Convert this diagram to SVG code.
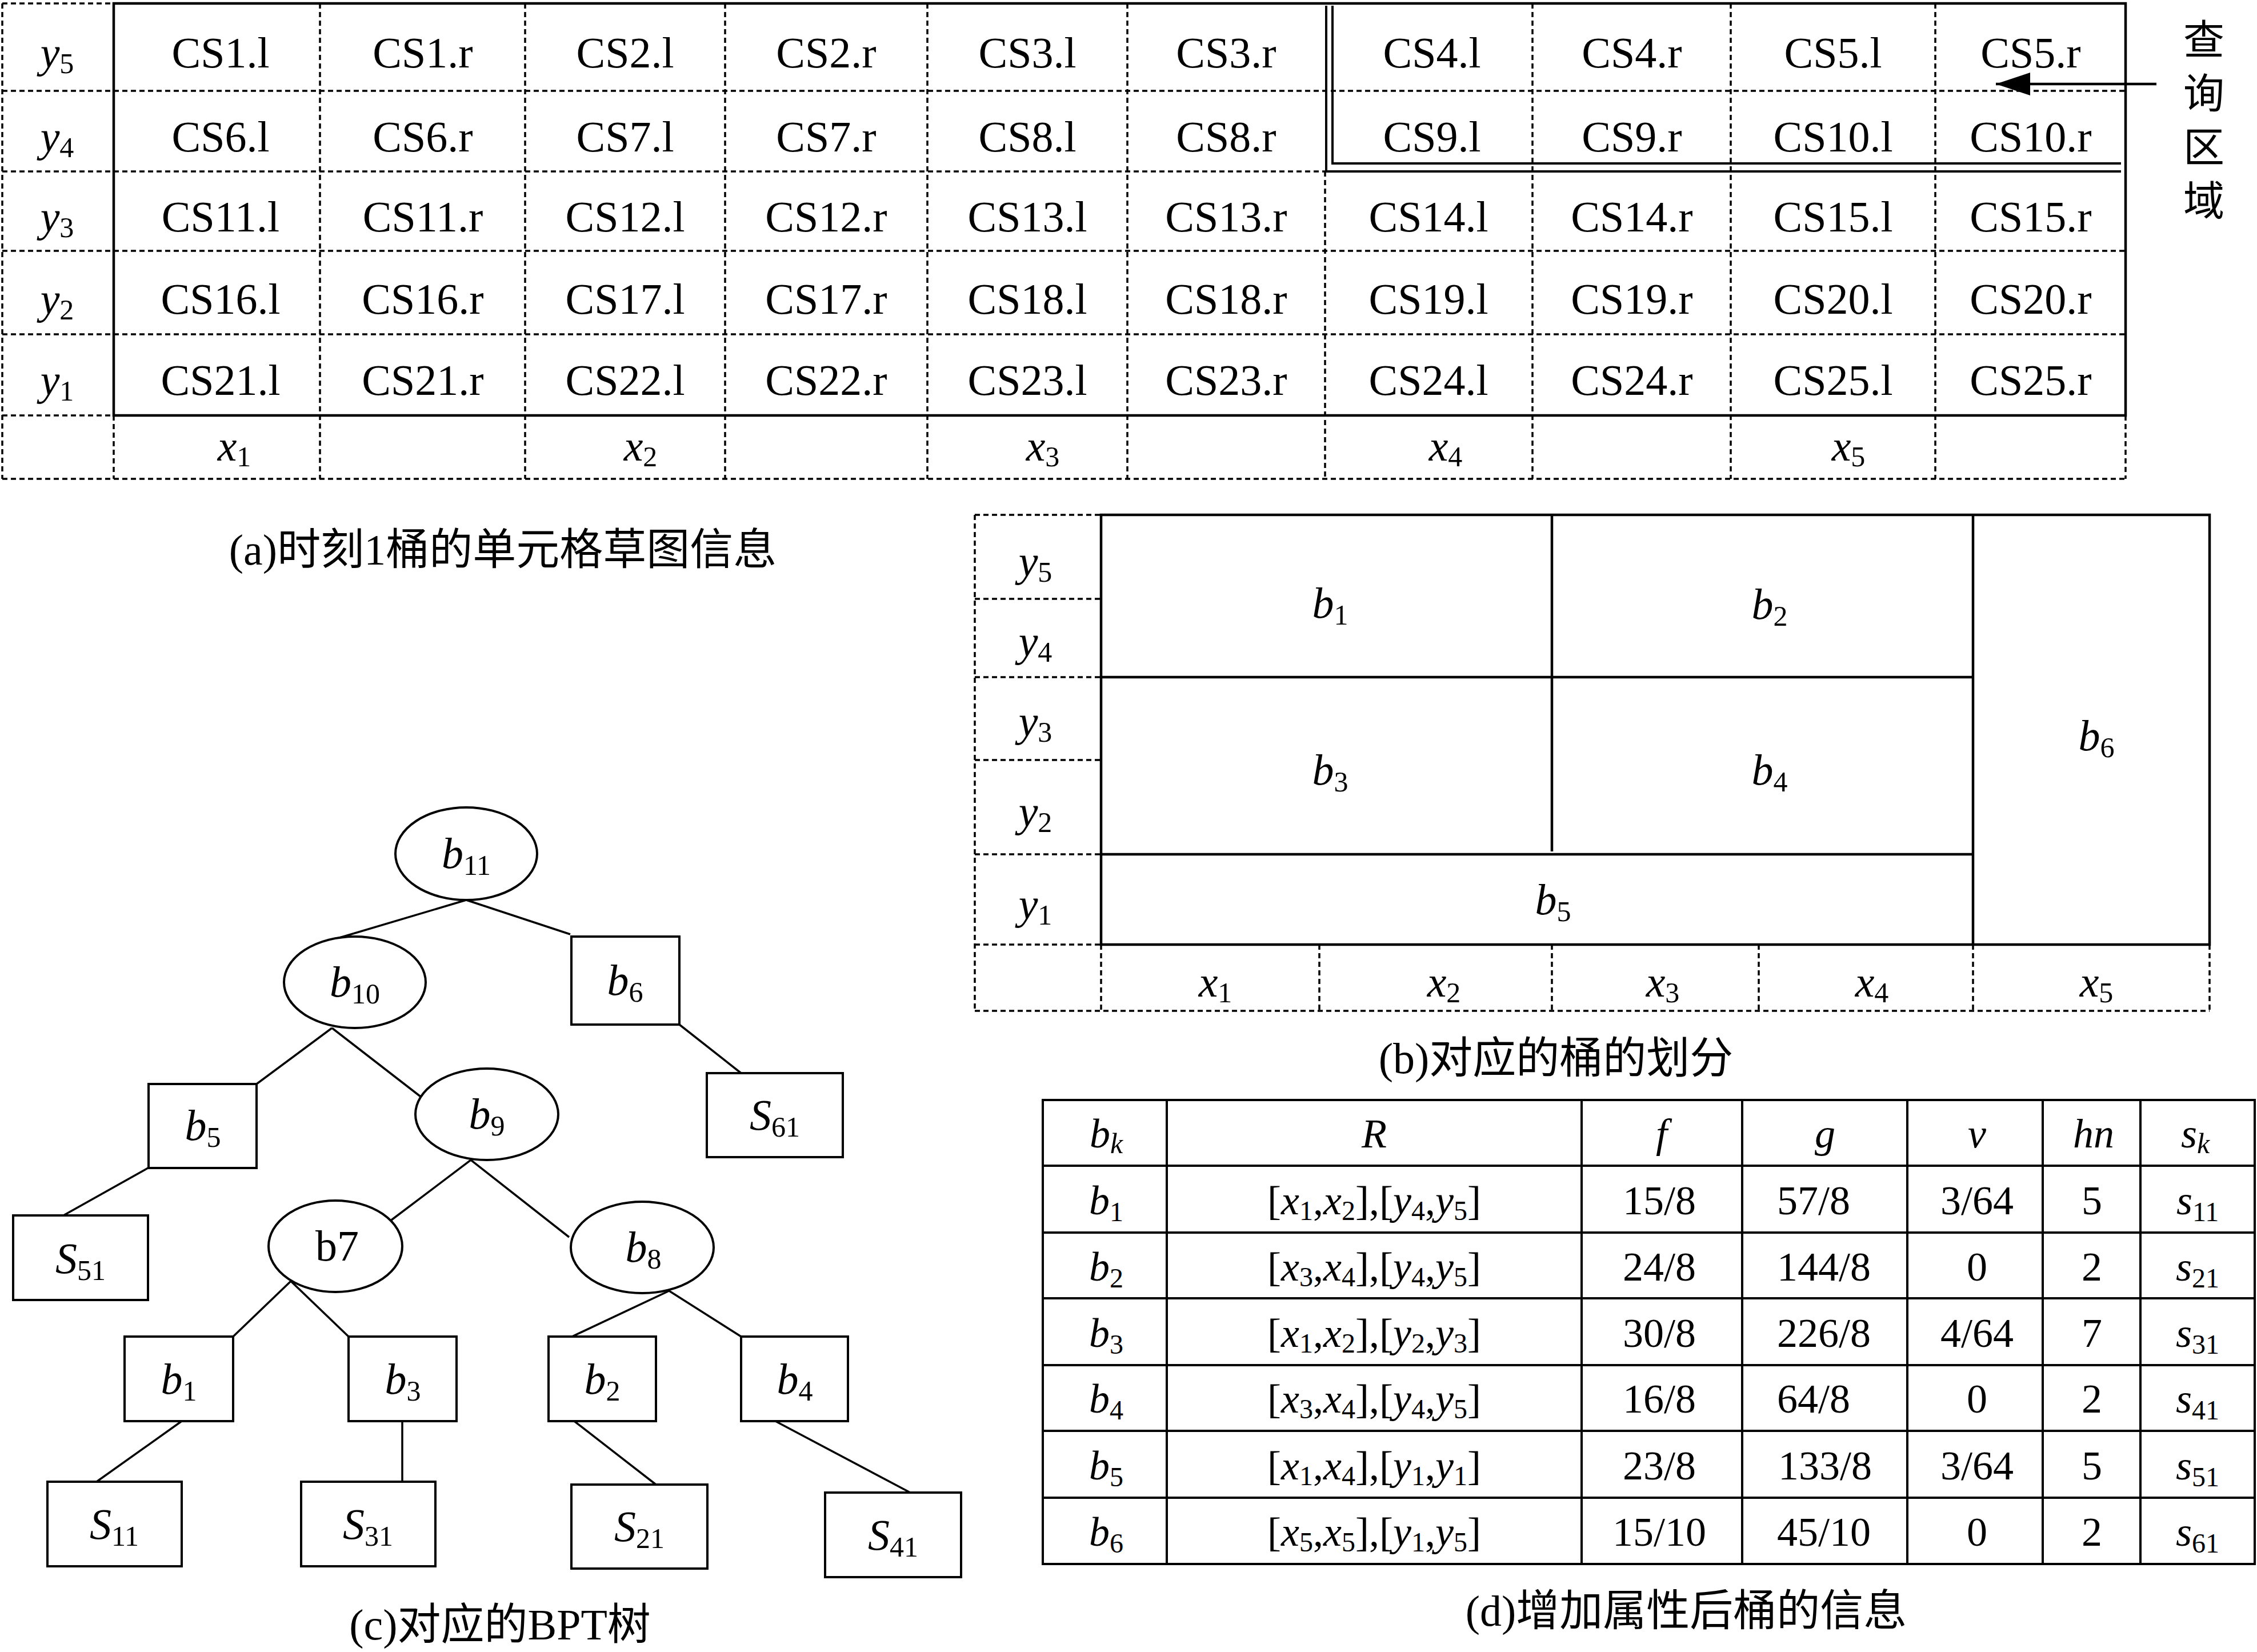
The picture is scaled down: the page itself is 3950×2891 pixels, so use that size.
<svg xmlns="http://www.w3.org/2000/svg" width="3950" height="2891" viewBox="0 0 3950 2891">
<style>
.f{font-family:"Liberation Serif","Times New Roman",serif;font-size:76px;fill:#000}
.d{font-family:"Liberation Serif","Times New Roman",serif;font-size:72px;fill:#000}
.cap{font-family:"Liberation Serif","Noto Sans CJK SC",serif;font-size:76px;fill:#000}
.cjk{font-family:"Noto Sans CJK SC",sans-serif;font-size:72px;fill:#000}
.it{font-style:italic}
.s{font-size:50px;font-style:normal}
.d .s{font-size:48px}
.sk{font-size:50px;font-style:italic}
.solid{stroke:#000;stroke-width:4.5;fill:none}
.thin{stroke:#000;stroke-width:4;fill:none}
.dash{stroke:#000;stroke-width:3.5;stroke-dasharray:9 6;fill:none}
.shape{stroke:#000;stroke-width:4;fill:#fff}
.edge{stroke:#000;stroke-width:3.5;fill:none}
</style>
<rect width="3950" height="2891" fill="#fff"/>

<!-- (a) cell sketch table -->
<g id="table-a">
<path class="dash" d="M4,6H199 M4,159H3720 M4,300H2321 M4,439H3720 M4,585H3720 M4,727H199 M4,838H3720"/>
<path class="dash" d="M4,6V838 M560,6V838 M919,6V838 M1269,6V838 M1623,6V838 M1973,6V838 M2319,300V838 M2682,6V838 M3029,6V838 M3387,6V838 M199,727V838 M3720,727V838"/>
<rect class="solid" x="199" y="6" width="3521" height="721"/>
<path class="thin" d="M2321,10V300H3712 M2332,10V286H3712"/>
<g class="f" text-anchor="middle">
<text x="100" y="118"><tspan class="it">y</tspan><tspan class="s" dy="10">5</tspan></text>
<text x="100" y="265"><tspan class="it">y</tspan><tspan class="s" dy="10">4</tspan></text>
<text x="100" y="405"><tspan class="it">y</tspan><tspan class="s" dy="10">3</tspan></text>
<text x="100" y="549"><tspan class="it">y</tspan><tspan class="s" dy="10">2</tspan></text>
<text x="100" y="691"><tspan class="it">y</tspan><tspan class="s" dy="10">1</tspan></text>
<text x="386" y="118">CS1.l</text><text x="740" y="118">CS1.r</text><text x="1094" y="118">CS2.l</text><text x="1446" y="118">CS2.r</text><text x="1798" y="118">CS3.l</text><text x="2146" y="118">CS3.r</text><text x="2506" y="118">CS4.l</text><text x="2856" y="118">CS4.r</text><text x="3208" y="118">CS5.l</text><text x="3554" y="118">CS5.r</text>
<text x="386" y="265">CS6.l</text><text x="740" y="265">CS6.r</text><text x="1094" y="265">CS7.l</text><text x="1446" y="265">CS7.r</text><text x="1798" y="265">CS8.l</text><text x="2146" y="265">CS8.r</text><text x="2506" y="265">CS9.l</text><text x="2856" y="265">CS9.r</text><text x="3208" y="265">CS10.l</text><text x="3554" y="265">CS10.r</text>
<text x="386" y="405">CS11.l</text><text x="740" y="405">CS11.r</text><text x="1094" y="405">CS12.l</text><text x="1446" y="405">CS12.r</text><text x="1798" y="405">CS13.l</text><text x="2146" y="405">CS13.r</text><text x="2500" y="405">CS14.l</text><text x="2856" y="405">CS14.r</text><text x="3208" y="405">CS15.l</text><text x="3554" y="405">CS15.r</text>
<text x="386" y="549">CS16.l</text><text x="740" y="549">CS16.r</text><text x="1094" y="549">CS17.l</text><text x="1446" y="549">CS17.r</text><text x="1798" y="549">CS18.l</text><text x="2146" y="549">CS18.r</text><text x="2500" y="549">CS19.l</text><text x="2856" y="549">CS19.r</text><text x="3208" y="549">CS20.l</text><text x="3554" y="549">CS20.r</text>
<text x="386" y="691">CS21.l</text><text x="740" y="691">CS21.r</text><text x="1094" y="691">CS22.l</text><text x="1446" y="691">CS22.r</text><text x="1798" y="691">CS23.l</text><text x="2146" y="691">CS23.r</text><text x="2500" y="691">CS24.l</text><text x="2856" y="691">CS24.r</text><text x="3208" y="691">CS25.l</text><text x="3554" y="691">CS25.r</text>
<text x="410" y="806"><tspan class="it">x</tspan><tspan class="s" dy="10">1</tspan></text>
<text x="1121" y="806"><tspan class="it">x</tspan><tspan class="s" dy="10">2</tspan></text>
<text x="1825" y="806"><tspan class="it">x</tspan><tspan class="s" dy="10">3</tspan></text>
<text x="2530" y="806"><tspan class="it">x</tspan><tspan class="s" dy="10">4</tspan></text>
<text x="3235" y="806"><tspan class="it">x</tspan><tspan class="s" dy="10">5</tspan></text>
</g>
</g>
<g id="query-label">
<line x1="3774" y1="147" x2="3493" y2="147" stroke="#000" stroke-width="4.5"/>
<path d="M3493,147 L3553,127 L3553,167 Z" fill="#000"/>
<text class="cjk" x="3857" y="32" writing-mode="vertical-rl" letter-spacing="22">查询区域</text>
</g>
<text class="cap" x="880" y="988" text-anchor="middle">(a)时刻1桶的单元格草图信息</text>

<!-- (b) bucket partition -->
<g id="partition-b">
<path class="dash" d="M1706,901H1927 M1706,1048H1927 M1706,1185H1927 M1706,1330H1927 M1706,1495H1927 M1706,1653H1927 M1706,1769H3867 M1706,901V1769 M1927,1653V1769 M2309,1653V1769 M2716,1653V1769 M3078,1653V1769 M3453,1653V1769 M3867,1653V1769"/>
<rect class="solid" x="1927" y="901" width="1940" height="752"/>
<path class="solid" d="M1927,1185H3453 M1927,1495H3453 M3453,901V1653 M2716,901V1490"/>
<g class="f" text-anchor="middle">
<text x="1812" y="1008"><tspan class="it">y</tspan><tspan class="s" dy="10">5</tspan></text>
<text x="1812" y="1148"><tspan class="it">y</tspan><tspan class="s" dy="10">4</tspan></text>
<text x="1812" y="1288"><tspan class="it">y</tspan><tspan class="s" dy="10">3</tspan></text>
<text x="1812" y="1446"><tspan class="it">y</tspan><tspan class="s" dy="10">2</tspan></text>
<text x="1812" y="1608"><tspan class="it">y</tspan><tspan class="s" dy="10">1</tspan></text>
<text x="2328" y="1081"><tspan class="it">b</tspan><tspan class="s" dy="12">1</tspan></text>
<text x="3097" y="1083"><tspan class="it">b</tspan><tspan class="s" dy="12">2</tspan></text>
<text x="2328" y="1373"><tspan class="it">b</tspan><tspan class="s" dy="12">3</tspan></text>
<text x="3097" y="1373"><tspan class="it">b</tspan><tspan class="s" dy="12">4</tspan></text>
<text x="2718" y="1600"><tspan class="it">b</tspan><tspan class="s" dy="12">5</tspan></text>
<text x="3669" y="1313"><tspan class="it">b</tspan><tspan class="s" dy="12">6</tspan></text>
<text x="2127" y="1744"><tspan class="it">x</tspan><tspan class="s" dy="10">1</tspan></text>
<text x="2527" y="1744"><tspan class="it">x</tspan><tspan class="s" dy="10">2</tspan></text>
<text x="2910" y="1744"><tspan class="it">x</tspan><tspan class="s" dy="10">3</tspan></text>
<text x="3276" y="1744"><tspan class="it">x</tspan><tspan class="s" dy="10">4</tspan></text>
<text x="3669" y="1744"><tspan class="it">x</tspan><tspan class="s" dy="10">5</tspan></text>
</g>
</g>
<text class="cap" x="2723" y="1878" text-anchor="middle">(b)对应的桶的划分</text>

<!-- (c) BPT tree -->
<g id="connectors">
<path class="edge" d="M816,1575L584,1644 M816,1575L998,1635 M581,1799L449,1897 M581,1799L736,1919 M1189,1793L1297,1878 M259,2044L111,2127 M824,2030L685,2135 M824,2030L996,2165 M509,2242L408,2339 M509,2242L610,2339 M1171,2259L1001,2339 M1171,2259L1297,2339 M318,2487L169,2593 M704,2487L704,2593 M1005,2487L1148,2598 M1357,2487L1593,2612"/>
</g>
<g class="f" text-anchor="middle">
<g id="node-b11"><ellipse class="shape" cx="816" cy="1494" rx="124" ry="81"/><text x="816" y="1519"><tspan class="it">b</tspan><tspan class="s" dy="12">11</tspan></text></g>
<g id="node-b10"><ellipse class="shape" cx="621" cy="1719" rx="124" ry="80"/><text x="621" y="1744"><tspan class="it">b</tspan><tspan class="s" dy="12">10</tspan></text></g>
<g id="node-b6"><rect class="shape" x="1000" y="1639" width="189" height="154"/><text x="1094" y="1741"><tspan class="it">b</tspan><tspan class="s" dy="12">6</tspan></text></g>
<g id="node-b5"><rect class="shape" x="260" y="1897" width="189" height="147"/><text x="355" y="1995"><tspan class="it">b</tspan><tspan class="s" dy="12">5</tspan></text></g>
<g id="node-b9"><ellipse class="shape" cx="852" cy="1950" rx="125" ry="80"/><text x="852" y="1975"><tspan class="it">b</tspan><tspan class="s" dy="12">9</tspan></text></g>
<g id="node-S61"><rect class="shape" x="1237" y="1878" width="238" height="147"/><text x="1356" y="1977"><tspan class="it">S</tspan><tspan class="s" dy="12">61</tspan></text></g>
<g id="node-S51"><rect class="shape" x="23" y="2127" width="236" height="148"/><text x="141" y="2228"><tspan class="it">S</tspan><tspan class="s" dy="12">51</tspan></text></g>
<g id="node-b7"><ellipse class="shape" cx="587" cy="2181" rx="117" ry="80"/><text x="590" y="2206">b7</text></g>
<g id="node-b8"><ellipse class="shape" cx="1124" cy="2183" rx="125" ry="80"/><text x="1126" y="2208"><tspan class="it">b</tspan><tspan class="s" dy="12">8</tspan></text></g>
<g id="node-b1"><rect class="shape" x="218" y="2339" width="190" height="148"/><text x="313" y="2439"><tspan class="it">b</tspan><tspan class="s" dy="12">1</tspan></text></g>
<g id="node-b3"><rect class="shape" x="610" y="2339" width="189" height="148"/><text x="705" y="2439"><tspan class="it">b</tspan><tspan class="s" dy="12">3</tspan></text></g>
<g id="node-b2"><rect class="shape" x="960" y="2339" width="188" height="148"/><text x="1054" y="2439"><tspan class="it">b</tspan><tspan class="s" dy="12">2</tspan></text></g>
<g id="node-b4"><rect class="shape" x="1297" y="2339" width="187" height="148"/><text x="1391" y="2439"><tspan class="it">b</tspan><tspan class="s" dy="12">4</tspan></text></g>
<g id="node-S11"><rect class="shape" x="83" y="2593" width="235" height="148"/><text x="200" y="2693"><tspan class="it">S</tspan><tspan class="s" dy="12">11</tspan></text></g>
<g id="node-S31"><rect class="shape" x="527" y="2593" width="235" height="148"/><text x="644" y="2693"><tspan class="it">S</tspan><tspan class="s" dy="12">31</tspan></text></g>
<g id="node-S21"><rect class="shape" x="1000" y="2598" width="238" height="147"/><text x="1119" y="2697"><tspan class="it">S</tspan><tspan class="s" dy="12">21</tspan></text></g>
<g id="node-S41"><rect class="shape" x="1444" y="2612" width="238" height="148"/><text x="1563" y="2712"><tspan class="it">S</tspan><tspan class="s" dy="12">41</tspan></text></g>
</g>
<text class="cap" x="875" y="2869" text-anchor="middle">(c)对应的BPT树</text>

<!-- (d) bucket info table -->
<g id="table-d">
<rect class="thin" x="1825" y="1925" width="2121" height="812"/>
<path class="thin" d="M1825,2040H3946 M1825,2157H3946 M1825,2272H3946 M1825,2389H3946 M1825,2504H3946 M1825,2621H3946 M2042,1925V2737 M2768,1925V2737 M3049,1925V2737 M3338,1925V2737 M3575,1925V2737 M3746,1925V2737"/>
<g class="d" text-anchor="middle">
<text x="1936" y="2008"><tspan class="it">b</tspan><tspan class="sk" dy="10">k</tspan></text>
<text x="2405" y="2008" class="it">R</text>
<text x="2908" y="2008" class="it">f</text>
<text x="3194" y="2008" class="it">g</text>
<text x="3460" y="2008" class="it">v</text>
<text x="3664" y="2008" class="it">hn</text>
<text x="3842" y="2008"><tspan class="it">s</tspan><tspan class="sk" dy="10">k</tspan></text>

<text x="1936" y="2125"><tspan class="it">b</tspan><tspan class="s" dy="12">1</tspan></text>
<text x="1936" y="2241"><tspan class="it">b</tspan><tspan class="s" dy="12">2</tspan></text>
<text x="1936" y="2357"><tspan class="it">b</tspan><tspan class="s" dy="12">3</tspan></text>
<text x="1936" y="2472"><tspan class="it">b</tspan><tspan class="s" dy="12">4</tspan></text>
<text x="1936" y="2589"><tspan class="it">b</tspan><tspan class="s" dy="12">5</tspan></text>
<text x="1936" y="2705"><tspan class="it">b</tspan><tspan class="s" dy="12">6</tspan></text>

<text x="2405" y="2125">[<tspan class="it">x</tspan><tspan class="s" dy="10">1</tspan><tspan dy="-10">,</tspan><tspan class="it">x</tspan><tspan class="s" dy="10">2</tspan><tspan dy="-10">],[</tspan><tspan class="it">y</tspan><tspan class="s" dy="10">4</tspan><tspan dy="-10">,</tspan><tspan class="it">y</tspan><tspan class="s" dy="10">5</tspan><tspan dy="-10">]</tspan></text>
<text x="2405" y="2241">[<tspan class="it">x</tspan><tspan class="s" dy="10">3</tspan><tspan dy="-10">,</tspan><tspan class="it">x</tspan><tspan class="s" dy="10">4</tspan><tspan dy="-10">],[</tspan><tspan class="it">y</tspan><tspan class="s" dy="10">4</tspan><tspan dy="-10">,</tspan><tspan class="it">y</tspan><tspan class="s" dy="10">5</tspan><tspan dy="-10">]</tspan></text>
<text x="2405" y="2357">[<tspan class="it">x</tspan><tspan class="s" dy="10">1</tspan><tspan dy="-10">,</tspan><tspan class="it">x</tspan><tspan class="s" dy="10">2</tspan><tspan dy="-10">],[</tspan><tspan class="it">y</tspan><tspan class="s" dy="10">2</tspan><tspan dy="-10">,</tspan><tspan class="it">y</tspan><tspan class="s" dy="10">3</tspan><tspan dy="-10">]</tspan></text>
<text x="2405" y="2472">[<tspan class="it">x</tspan><tspan class="s" dy="10">3</tspan><tspan dy="-10">,</tspan><tspan class="it">x</tspan><tspan class="s" dy="10">4</tspan><tspan dy="-10">],[</tspan><tspan class="it">y</tspan><tspan class="s" dy="10">4</tspan><tspan dy="-10">,</tspan><tspan class="it">y</tspan><tspan class="s" dy="10">5</tspan><tspan dy="-10">]</tspan></text>
<text x="2405" y="2589">[<tspan class="it">x</tspan><tspan class="s" dy="10">1</tspan><tspan dy="-10">,</tspan><tspan class="it">x</tspan><tspan class="s" dy="10">4</tspan><tspan dy="-10">],[</tspan><tspan class="it">y</tspan><tspan class="s" dy="10">1</tspan><tspan dy="-10">,</tspan><tspan class="it">y</tspan><tspan class="s" dy="10">1</tspan><tspan dy="-10">]</tspan></text>
<text x="2405" y="2705">[<tspan class="it">x</tspan><tspan class="s" dy="10">5</tspan><tspan dy="-10">,</tspan><tspan class="it">x</tspan><tspan class="s" dy="10">5</tspan><tspan dy="-10">],[</tspan><tspan class="it">y</tspan><tspan class="s" dy="10">1</tspan><tspan dy="-10">,</tspan><tspan class="it">y</tspan><tspan class="s" dy="10">5</tspan><tspan dy="-10">]</tspan></text>

<text x="2904" y="2125">15/8</text>
<text x="2904" y="2241">24/8</text>
<text x="2904" y="2357">30/8</text>
<text x="2904" y="2472">16/8</text>
<text x="2904" y="2589">23/8</text>
<text x="2904" y="2705">15/10</text>

<text x="3460" y="2125">3/64</text>
<text x="3460" y="2241">0</text>
<text x="3460" y="2357">4/64</text>
<text x="3460" y="2472">0</text>
<text x="3460" y="2589">3/64</text>
<text x="3460" y="2705">0</text>

<text x="3661" y="2125">5</text>
<text x="3661" y="2241">2</text>
<text x="3661" y="2357">7</text>
<text x="3661" y="2472">2</text>
<text x="3661" y="2589">5</text>
<text x="3661" y="2705">2</text>

<text x="3846" y="2125"><tspan class="it">s</tspan><tspan class="s" dy="12">11</tspan></text>
<text x="3846" y="2241"><tspan class="it">s</tspan><tspan class="s" dy="12">21</tspan></text>
<text x="3846" y="2357"><tspan class="it">s</tspan><tspan class="s" dy="12">31</tspan></text>
<text x="3846" y="2472"><tspan class="it">s</tspan><tspan class="s" dy="12">41</tspan></text>
<text x="3846" y="2589"><tspan class="it">s</tspan><tspan class="s" dy="12">51</tspan></text>
<text x="3846" y="2705"><tspan class="it">s</tspan><tspan class="s" dy="12">61</tspan></text>
</g>
<g class="d">
<text x="3110" y="2125">57/8</text>
<text x="3110" y="2241">144/8</text>
<text x="3110" y="2357">226/8</text>
<text x="3110" y="2472">64/8</text>
<text x="3112" y="2589">133/8</text>
<text x="3110" y="2705">45/10</text>
</g>
</g>
<text class="cap" x="2951" y="2845" text-anchor="middle">(d)增加属性后桶的信息</text>
</svg>
